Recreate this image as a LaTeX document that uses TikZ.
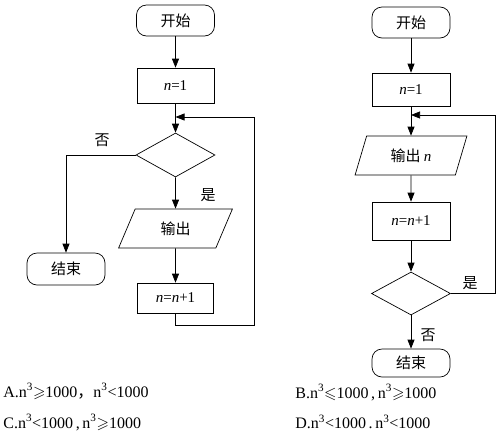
\documentclass[tikz,border=0pt]{standalone}
\usepackage{amssymb}
\usepackage{fontspec}
\setmainfont{Liberation Serif}
\newfontfamily\cjk{Noto Sans CJK SC}
\usetikzlibrary{arrows.meta,shapes.geometric}
\begin{document}
\begin{tikzpicture}[x=1pt,y=-1pt,line width=0.7pt,
  term/.style={draw,rounded corners=10pt,minimum width=78pt,minimum height=31pt,inner sep=0pt,font=\cjk\fontsize{15}{15}\selectfont},
  proc/.style={draw,minimum width=77pt,minimum height=34pt,inner sep=0pt,font=\fontsize{15}{15}\selectfont},
  dec/.style={draw,diamond,minimum width=79pt,minimum height=44pt,inner sep=0pt},
  io/.style={draw,trapezium,trapezium left angle=66,trapezium right angle=114,trapezium stretches=true,minimum width=114pt,minimum height=39pt,inner sep=0pt,font=\cjk\fontsize{15}{15}\selectfont},
  arr/.style={-{Triangle[length=9pt,width=7pt]}},
  lbl/.style={inner sep=0pt,font=\cjk\fontsize{15}{15}\selectfont},
  opt/.style={anchor=base west,inner sep=0pt,font=\fontsize{16}{16}\selectfont}
]
\useasboundingbox (0,0) rectangle (502,437);
% left chart
\node[term] (ls) at (175.5,20.5) {开始};
\node[proc,minimum height=35pt] (l1) at (175.5,85.5) {\textit{n}=1};
\node[dec] (ld) at (175.5,155) {};
\node[io] (lo) at (175.5,228.5) {输出};
\node[proc,minimum width=76pt,minimum height=30pt] (lp) at (175.5,298) {\textit{n}=\textit{n}+1};
\node[term,minimum height=32pt] (le) at (66,269) {结束};
\coordinate (lj) at (175.5,117);
\coordinate (lb) at (254,325);
\coordinate (lt) at (254,117);
\draw[arr] (ls) -- (l1);
\draw[arr] (l1) -- (ld);
\draw[arr] (ld) -- (lo);
\draw[arr] (lo) -- (lp);
\draw[arr] (ld.west) -| (le.north);
\draw[arr] (lp.south) |- (lb) -- (lt) -- (lj);
\node[lbl] (lno) at (102,140) {否};
\node[lbl] (lyes) at (208,195) {是};
% right chart
\node[term] (rs) at (411,22.5) {开始};
\node[proc,minimum width=78pt,minimum height=33pt] (r1) at (411,89.5) {\textit{n}=1};
\node[io,minimum width=112pt,trapezium left angle=69,trapezium right angle=111] (ro) at (411,155.5) {输出 {\rmfamily\itshape n}};
\node[proc,minimum width=78pt,minimum height=38pt] (rp) at (411,221) {\textit{n}=\textit{n}+1};
\node[dec,minimum height=43pt] (rd) at (411,293.5) {};
\node[term,minimum height=28pt] (re) at (411,363) {结束};
\coordinate (rj) at (411,115);
\coordinate (rb) at (495,293.5);
\coordinate (rt) at (495,115);
\draw[arr] (rs) -- (r1);
\draw[arr] (r1) -- (ro);
\draw[arr] (ro) -- (rp);
\draw[arr] (rp) -- (rd);
\draw[arr] (rd) -- (re);
\draw[arr] (rd.east) -- (rb) -- (rt) -- (rj);
\node[lbl] (ryes) at (470,283) {是};
\node[lbl] (rno) at (428,335) {否};
% options
\node[opt] (oa) at (3,397) {A.n\textsuperscript{3}$\geqslant$1000{\cjk ，}n\textsuperscript{3}<1000};
\node[opt] (oc) at (3,428) {C.n\textsuperscript{3}<1000\,,\,n\textsuperscript{3}$\geqslant$1000};
\node[opt] (ob) at (295,398) {B.n\textsuperscript{3}$\leqslant$1000\,,\,n\textsuperscript{3}$\geqslant$1000};
\node[opt] (od) at (295,428.5) {D.n\textsuperscript{3}<1000\,.\,n\textsuperscript{3}<1000};
\end{tikzpicture}
\end{document}
